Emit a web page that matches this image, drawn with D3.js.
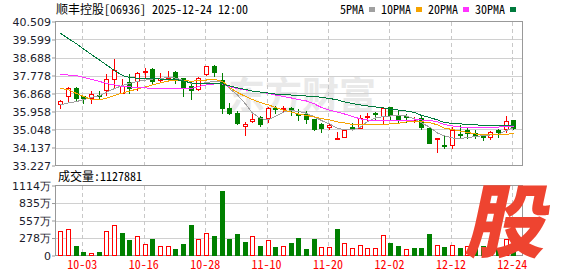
<!DOCTYPE html>
<html>
<head>
<meta charset="utf-8">
<script src="https://cdn.jsdelivr.net/npm/d3@7"></script>
<style>
body { margin: 0; background: #fff; }
svg { display: block; }
</style>
</head>
<body>
<script>
// Trading days (MM-DD)
const dates = ['09-29','09-30','10-02','10-03','10-06','10-08','10-09','10-10','10-13','10-14',
  '10-15','10-16','10-17','10-20','10-21','10-22','10-23','10-24','10-27','10-28',
  '10-30','10-31','11-03','11-04','11-05','11-06','11-07','11-10','11-11','11-12',
  '11-13','11-14','11-17','11-18','11-19','11-20','11-21','11-24','11-25','11-26',
  '11-27','11-28','12-01','12-02','12-03','12-04','12-05','12-08','12-09','12-10',
  '12-11','12-12','12-15','12-16','12-17','12-18','12-19','12-22','12-23','12-24'];

const opens = [36.35,36.75,37.15,36.75,36.65,36.80,37.05,37.60,36.90,37.45,
  37.50,37.95,38.10,37.55,37.62,37.97,37.65,37.25,37.08,37.84,
  38.26,37.55,36.13,35.88,35.21,35.46,35.68,35.61,36.15,36.10,
  36.15,35.85,35.85,35.58,35.33,35.16,34.58,34.65,35.17,35.14,
  35.67,35.88,35.73,36.18,35.75,35.73,35.48,35.64,35.12,34.55,
  34.27,34.26,34.83,35.00,34.87,34.77,34.68,35.01,35.07,35.51];
const highs = [36.55,37.20,37.20,36.75,37.00,37.00,37.85,38.60,37.60,37.85,
  37.95,38.15,38.17,37.90,38.00,38.00,37.67,37.33,37.70,38.27,
  38.33,37.89,36.39,35.98,35.44,35.92,35.71,36.20,36.25,36.25,
  36.20,36.08,35.98,35.58,35.36,35.36,34.93,35.07,35.36,35.78,
  35.87,35.92,36.15,36.20,36.03,35.82,35.69,35.78,35.12,34.60,
  34.73,35.19,35.27,35.11,35.00,34.80,34.97,35.07,35.74,35.53];
const lows = [36.15,36.50,36.50,36.40,36.40,36.60,36.80,37.15,36.90,36.90,
  37.05,37.70,37.33,37.45,37.50,37.42,36.75,36.57,37.05,37.80,
  37.75,35.87,35.82,35.31,34.75,35.44,35.24,35.44,35.87,35.98,
  35.78,35.53,35.36,35.00,34.91,35.07,34.55,34.65,35.02,35.14,
  35.55,35.53,35.36,35.53,35.44,35.44,35.44,35.07,34.38,33.93,
  34.13,34.13,34.67,34.60,34.60,34.52,34.57,34.68,34.94,35.07];
const closes = [36.50,37.16,36.65,36.62,36.85,36.75,37.60,38.05,37.25,37.15,
  37.90,38.00,37.50,37.65,37.66,37.60,37.13,37.05,37.65,38.24,
  37.95,36.12,35.90,35.36,35.33,35.58,35.32,36.12,36.08,36.15,
  36.02,35.78,35.56,35.07,35.14,35.28,34.62,35.02,35.12,35.61,
  35.71,35.82,36.12,35.78,35.58,35.68,35.53,35.19,34.39,34.60,
  34.21,35.00,34.77,34.88,34.72,34.65,34.93,34.91,35.49,35.10];

// volume in 万 shares
const volumes = [390,422,151,61,40,61,390,485,358,247,
  310,183,263,151,151,103,183,485,258,358,
  310,1026,263,342,215,310,151,247,135,151,
  199,278,103,263,135,135,422,199,119,167,
  119,119,326,199,151,103,119,119,342,167,
  135,167,119,150,130,151,231,100,258,112.79];

const ma5 = [36.30,36.39,36.46,36.56,36.67,36.76,36.94,37.12,37.27,37.38,
  37.48,37.55,37.60,37.63,37.68,37.65,37.53,37.37,37.35,37.42,
  37.49,37.48,37.12,36.79,36.34,35.88,35.60,35.53,35.71,35.93,
  36.01,35.96,35.87,35.68,35.50,35.33,35.10,35.05,35.02,35.17,
  35.45,35.63,35.70,35.73,35.76,35.73,35.58,35.38,35.17,34.87,
  34.72,34.62,34.59,34.64,34.69,34.74,34.77,34.80,35.00,35.14];
const ma10 = [37.13,37.05,36.87,36.72,36.56,36.54,36.63,36.77,36.89,36.99,
  37.10,37.20,37.30,37.40,37.50,37.55,37.55,37.48,37.53,37.55,
  37.58,37.48,37.17,36.92,36.72,36.56,36.41,36.29,36.16,36.03,
  35.93,35.83,35.76,35.68,35.60,35.53,35.43,35.38,35.30,35.28,
  35.28,35.29,35.31,35.33,35.36,35.43,35.44,35.44,35.40,35.28,
  35.11,35.05,34.97,34.90,34.82,34.80,34.77,34.77,34.80,34.85];
const ma20 = [37.84,37.80,37.77,37.68,37.58,37.48,37.37,37.30,37.22,37.20,
  37.18,37.15,37.13,37.12,37.11,37.10,37.10,37.13,37.22,37.30,
  37.35,37.35,37.22,37.12,37.05,36.99,36.94,36.87,36.79,36.72,
  36.64,36.56,36.49,36.34,36.16,36.03,35.93,35.83,35.71,35.58,
  35.53,35.50,35.50,35.50,35.50,35.51,35.53,35.53,35.51,35.43,
  35.30,35.23,35.17,35.15,35.15,35.15,35.15,35.17,35.20,35.20];
const ma30 = [39.91,39.64,39.38,39.12,38.84,38.56,38.31,38.03,37.78,37.68,
  37.64,37.64,37.63,37.60,37.59,37.58,37.50,37.40,37.38,37.38,
  37.38,37.35,37.25,37.15,37.07,36.99,36.94,36.89,36.84,36.82,
  36.79,36.77,36.74,36.72,36.67,36.62,36.54,36.44,36.36,36.29,
  36.24,36.19,36.14,36.08,36.03,35.98,35.91,35.76,35.66,35.53,
  35.40,35.36,35.33,35.30,35.28,35.26,35.25,35.24,35.23,35.23];

const priceTicks = [40.509,39.599,38.688,37.778,36.868,35.958,35.048,34.137,33.227];
const volTicks = [1114,835,557,278,0];
const dateTicks = ['10-03','10-16','10-28','11-10','11-20','12-02','12-12','12-24'];

const maNames = ['5PMA','10PMA','20PMA','30PMA'];
const maColors = ['#a0a0a0','#f5a300','#ff33ff','#007a3d'];

const width = 578, height = 276;
const plot = { left: 55, right: 522, top: 21.5, bottom: 165.5 };
const vplot = { top: 185.5, bottom: 255.5 };

const RED = '#ff0000', GREEN = '#008000';
const monoFont = "'Noto Sans Mono CJK SC','Noto Sans CJK SC','Liberation Mono',monospace";
const numFont = "'DejaVu Sans',sans-serif";

const svg = d3.select('body').append('svg')
  .attr('width', width)
  .attr('height', height);

const x = d3.scaleBand().domain(dates).range([56.4, 517.2]).paddingInner(0);
const y = d3.scaleLinear().domain([33.227, 40.509]).range([plot.bottom, plot.top]);
const yv = d3.scaleLinear().domain([0, 1114]).range([vplot.bottom, vplot.top]);
const cx = i => Math.round(x(dates[i]) + x.bandwidth() / 2) + 0.5;

// watermark
svg.append('text')
  .attr('x', 228).attr('y', 109)
  .attr('font-family', "'Noto Sans CJK SC',sans-serif")
  .attr('font-size', 37)
  .attr('font-weight', 'bold')
  .attr('fill', '#e9e9e9')
  .text('东方财富');

// title
svg.append('text')
  .attr('x', 56).attr('y', 13.5)
  .attr('font-family', monoFont)
  .attr('font-size', 12)
  .attr('fill', '#000')
  .text('顺丰控股[06936] 2025-12-24 12:00');

// legend
let lx = 340;
maNames.forEach((name, i) => {
  svg.append('text')
    .attr('x', lx).attr('y', 13.5)
    .attr('font-family', monoFont)
    .attr('font-size', 12)
    .attr('fill', '#000')
    .text(name);
  const sx = lx + name.length * 6 + 5;
  svg.append('rect')
    .attr('x', sx).attr('y', 7)
    .attr('width', 6).attr('height', 5)
    .attr('fill', maColors[i]);
  lx = sx + 12;
});

// grids
const grid = svg.append('g').attr('shape-rendering', 'crispEdges');
grid.selectAll('.hg')
  .data(priceTicks.slice(1, -1))
  .enter().append('line')
  .attr('x1', plot.left).attr('x2', plot.right)
  .attr('y1', d => Math.round(y(d)) + 0.5).attr('y2', d => Math.round(y(d)) + 0.5)
  .attr('stroke', '#d0d0d0');
grid.selectAll('.hv')
  .data(volTicks.slice(1, -1))
  .enter().append('line')
  .attr('x1', plot.left).attr('x2', plot.right)
  .attr('y1', d => Math.round(yv(d)) + 0.5).attr('y2', d => Math.round(yv(d)) + 0.5)
  .attr('stroke', '#d0d0d0');
dateTicks.forEach(t => {
  const xx = cx(dates.indexOf(t)) - 1;
  [[plot.top, plot.bottom], [vplot.top, vplot.bottom]].forEach(([a, b]) => {
    grid.append('line')
      .attr('x1', xx).attr('x2', xx)
      .attr('y1', a).attr('y2', b)
      .attr('stroke', '#c8c8c8')
      .attr('stroke-dasharray', '4,3');
  });
});

// frames
[[plot.top, plot.bottom], [vplot.top, vplot.bottom]].forEach(([a, b]) => {
  svg.append('rect')
    .attr('x', plot.left + 0.5).attr('y', a)
    .attr('width', plot.right - plot.left).attr('height', b - a)
    .attr('fill', 'none')
    .attr('stroke', '#999')
    .attr('shape-rendering', 'crispEdges');
});

// y axes
const yAxis = svg.append('g')
  .attr('transform', `translate(${plot.left},0)`)
  .call(d3.axisLeft(y).tickValues(priceTicks).tickSize(3).tickPadding(1).tickFormat(d3.format('.3f')));
const vAxis = svg.append('g')
  .attr('transform', `translate(${plot.left},0)`)
  .call(d3.axisLeft(yv).tickValues(volTicks).tickSize(3).tickPadding(1).tickFormat(d => d === 0 ? '0' : d + '万'));
[yAxis, vAxis].forEach(g => {
  g.select('.domain').remove();
  g.selectAll('line').attr('stroke', '#999');
  g.selectAll('text')
    .attr('font-family', numFont)
    .attr('font-size', 11)
    .attr('fill', '#1c1c2c');
});

// x axis labels
const xAxis = svg.append('g')
  .attr('transform', `translate(-1,${vplot.bottom})`)
  .call(d3.axisBottom(x).tickValues(dateTicks).tickSize(0).tickPadding(5));
xAxis.select('.domain').remove();
xAxis.selectAll('text')
  .attr('font-family', monoFont)
  .attr('font-size', 12)
  .attr('fill', RED);

// candles
const candles = svg.append('g').attr('shape-rendering', 'crispEdges');
dates.forEach((d, i) => {
  const up = closes[i] > opens[i];
  const c = up ? RED : GREEN;
  const xx = cx(i);
  candles.append('line')
    .attr('x1', xx).attr('x2', xx)
    .attr('y1', Math.round(y(highs[i]))).attr('y2', Math.round(y(lows[i])) + 1)
    .attr('stroke', c);
  const yo = Math.round(y(opens[i])), yc = Math.round(y(closes[i]));
  if (up) {
    candles.append('rect')
      .attr('x', xx - 2).attr('y', yc + 0.5)
      .attr('width', 4).attr('height', Math.max(yo - yc, 1))
      .attr('fill', '#fff').attr('stroke', c);
  } else {
    candles.append('rect')
      .attr('x', xx - 2.5).attr('y', yo)
      .attr('width', 5).attr('height', Math.max(yc - yo, 1) + 1)
      .attr('fill', c);
  }
});

// moving averages
const line = d3.line().x((d, i) => cx(i)).y(d => y(d));
[ma5, ma10, ma20, ma30].forEach((arr, k) => {
  svg.append('path')
    .datum(arr)
    .attr('d', line)
    .attr('fill', 'none')
    .attr('stroke', maColors[k])
    .attr('stroke-width', 1)
    .attr('shape-rendering', 'crispEdges');
});

// volume label
svg.append('text')
  .attr('x', 58).attr('y', 181)
  .attr('font-family', monoFont)
  .attr('font-size', 12)
  .attr('fill', '#000')
  .text('成交量:1127881');

// volume bars (colour by close vs previous close)
const vbars = svg.append('g').attr('shape-rendering', 'crispEdges');
volumes.forEach((v, i) => {
  const up = i === 0 ? closes[i] >= opens[i] : closes[i] >= closes[i - 1];
  const xx = cx(i);
  const top = Math.round(yv(v));
  if (up) {
    vbars.append('rect')
      .attr('x', xx - 2).attr('y', top + 0.5)
      .attr('width', 4).attr('height', Math.max(Math.round(vplot.bottom) - top - 1, 1))
      .attr('fill', '#fff').attr('stroke', RED);
  } else {
    vbars.append('rect')
      .attr('x', xx - 2.5).attr('y', top)
      .attr('width', 5).attr('height', Math.round(vplot.bottom) - top)
      .attr('fill', GREEN);
  }
});

// logo
svg.append('g')
  .attr('transform', 'translate(504,251) skewX(-12)')
  .append('text')
  .attr('text-anchor', 'middle')
  .attr('font-family', "'Noto Sans CJK SC',sans-serif")
  .attr('font-size', 80)
  .attr('font-weight', 900)
  .attr('fill', '#ee4430')
  .text('股');
</script>
</body>
</html>
